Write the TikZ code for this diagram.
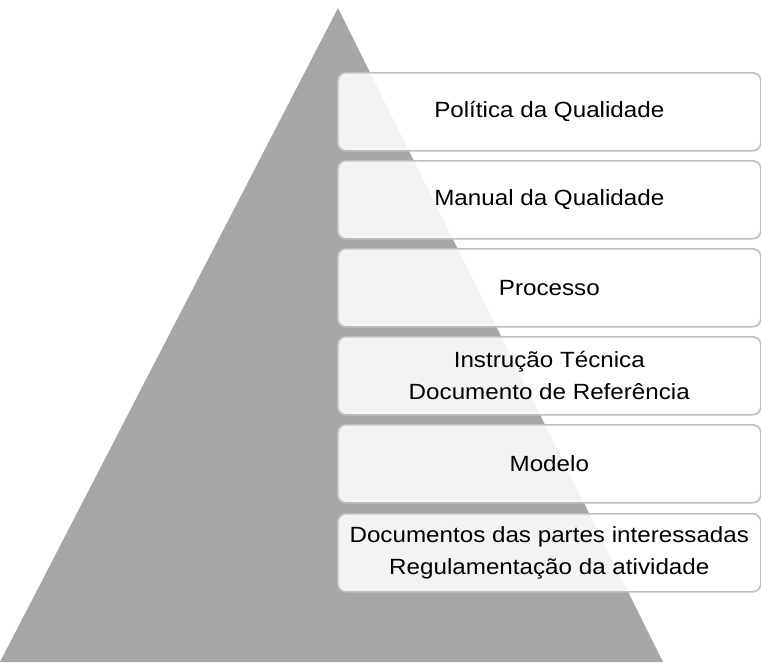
\documentclass[tikz,border=0pt]{standalone}
\usepackage{fontspec}
\setmainfont[FakeStretch=1.1]{Liberation Sans}
\definecolor{tri}{HTML}{A6A6A6}
\definecolor{edge}{HTML}{BFBFBF}
\begin{document}
\begin{tikzpicture}[x=1pt,y=-1pt,
  level/.style={draw=edge, line width=1.6pt, fill=white, fill opacity=0.87, text opacity=1,
    rounded corners=8pt, minimum width=423pt, minimum height=78pt, anchor=north west,
    align=center, inner sep=0pt, font=\fontsize{22}{32}\selectfont, text=black}]
\useasboundingbox (0,0) rectangle (761,662);
\fill[tri] (0,662) -- (338,8) -- (663,662) -- cycle;
\node[level] (b1) at (337,72)  {Política da Qualidade};
\node[level] (b2) at (337,160) {Manual da Qualidade};
\node[level] (b3) at (337,248) {Processo};
\node[level] (b4) at (337,336) {Instrução Técnica\\Documento de Referência};
\node[level] (b5) at (337,424) {Modelo};
\node[level] (b6) at (337,513) {Documentos das partes interessadas\\Regulamentação da atividade};
\end{tikzpicture}
\end{document}
